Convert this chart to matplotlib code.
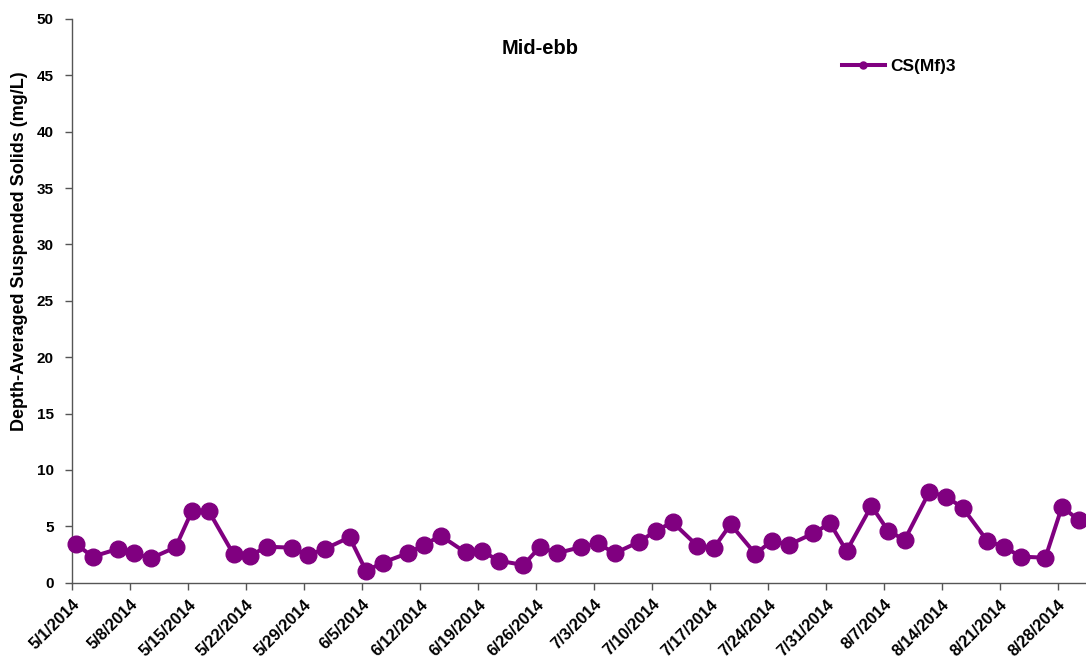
import matplotlib
matplotlib.use("Agg")
import matplotlib.pyplot as plt
import pandas as pd

plt.rcParams['font.family'] = ['Liberation Sans', 'DejaVu Sans']

# sample dates (taken around midday) and depth-averaged SS values
sample_dates = [
    "2014-05-01", "2014-05-03", "2014-05-06", "2014-05-08", "2014-05-10",
    "2014-05-13", "2014-05-15", "2014-05-17", "2014-05-20", "2014-05-22",
    "2014-05-24", "2014-05-27", "2014-05-29", "2014-05-31", "2014-06-03",
    "2014-06-05", "2014-06-07", "2014-06-10", "2014-06-12", "2014-06-14",
    "2014-06-17", "2014-06-19", "2014-06-21", "2014-06-24", "2014-06-26",
    "2014-06-28", "2014-07-01", "2014-07-03", "2014-07-05", "2014-07-08",
    "2014-07-10", "2014-07-12", "2014-07-15", "2014-07-17", "2014-07-19",
    "2014-07-22", "2014-07-24", "2014-07-26", "2014-07-29", "2014-07-31",
    "2014-08-02", "2014-08-05", "2014-08-07", "2014-08-09", "2014-08-12",
    "2014-08-14", "2014-08-16", "2014-08-19", "2014-08-21", "2014-08-23",
    "2014-08-26", "2014-08-28", "2014-08-30",
]
ss_values = [
    3.41, 2.31, 2.99, 2.61, 2.16, 3.14, 6.39, 6.36, 2.52, 2.40,
    3.19, 3.11, 2.46, 2.99, 4.03, 1.04, 1.78, 2.61, 3.35, 4.17,
    2.69, 2.81, 1.95, 1.57, 3.19, 2.61, 3.17, 3.49, 2.61, 3.64,
    4.62, 5.36, 3.26, 3.11, 5.18, 2.55, 3.73, 3.35, 4.38, 5.27,
    2.81, 6.81, 4.62, 3.79, 8.07, 7.63, 6.66, 3.70, 3.19, 2.31,
    2.22, 6.74, 5.56,
]
series_name = "CS(Mf)3"
title = "Mid-ebb"
y_label = "Depth-Averaged Suspended Solids (mg/L)"
y_ticks = [0, 5, 10, 15, 20, 25, 30, 35, 40, 45, 50]

x = pd.to_datetime(sample_dates) + pd.Timedelta(hours=12)
start = pd.Timestamp("2014-05-01")
end = start + pd.Timedelta(days=122.4)
tick_dates = pd.date_range(start, "2014-08-28", freq="7D")
tick_labels = [f"{d.month}/{d.day}/{d.year}" for d in tick_dates]

fig = plt.figure(figsize=(10.86, 6.62), dpi=100)
ax = fig.add_axes([72 / 1086, 79.3 / 662, 1 - 72 / 1086, 563.7 / 662])

purple = '#800080'
ax.plot(x, ss_values, color=purple, lw=2.9, marker='o', ms=12,
        label=series_name, clip_on=False, zorder=3)

ax.set_xlim(start, end)
ax.set_ylim(0, 50)
ax.set_yticks(y_ticks)
ax.set_xticks(tick_dates)
ax.set_xticklabels(tick_labels, rotation=45, ha='right', rotation_mode='anchor')

for lab in ax.get_xticklabels():
    lab.set_fontweight('bold')
    lab.set_fontsize(11.8)
for lab in ax.get_yticklabels():
    lab.set_fontweight('bold')
    lab.set_fontsize(11)

for side in ['top', 'right']:
    ax.spines[side].set_visible(False)
for side in ['left', 'bottom']:
    ax.spines[side].set_color('#555555')
    ax.spines[side].set_linewidth(1.0)
ax.tick_params(direction='out', length=5, width=1.0, color='#555555')
ax.tick_params(axis='x', pad=5)
ax.tick_params(axis='y', pad=8)

ax.set_ylabel(y_label, fontsize=13, fontweight='bold')
ax.yaxis.set_label_coords((28 - 72) / 1014, (583 - 251.5) / 564)

fig.text(540 / 1086, 1 - 48 / 662, title, ha='center', va='center',
         fontsize=14.5, fontweight='bold')

ax.legend(loc='center left', bbox_to_anchor=(826 / 1086, 1 - 66 / 662),
          bbox_transform=fig.transFigure, frameon=False,
          handlelength=2.5, handletextpad=0.3, markerscale=0.42,
          prop={'weight': 'bold', 'size': 12.5})

fig.savefig("out.png", dpi=100)
